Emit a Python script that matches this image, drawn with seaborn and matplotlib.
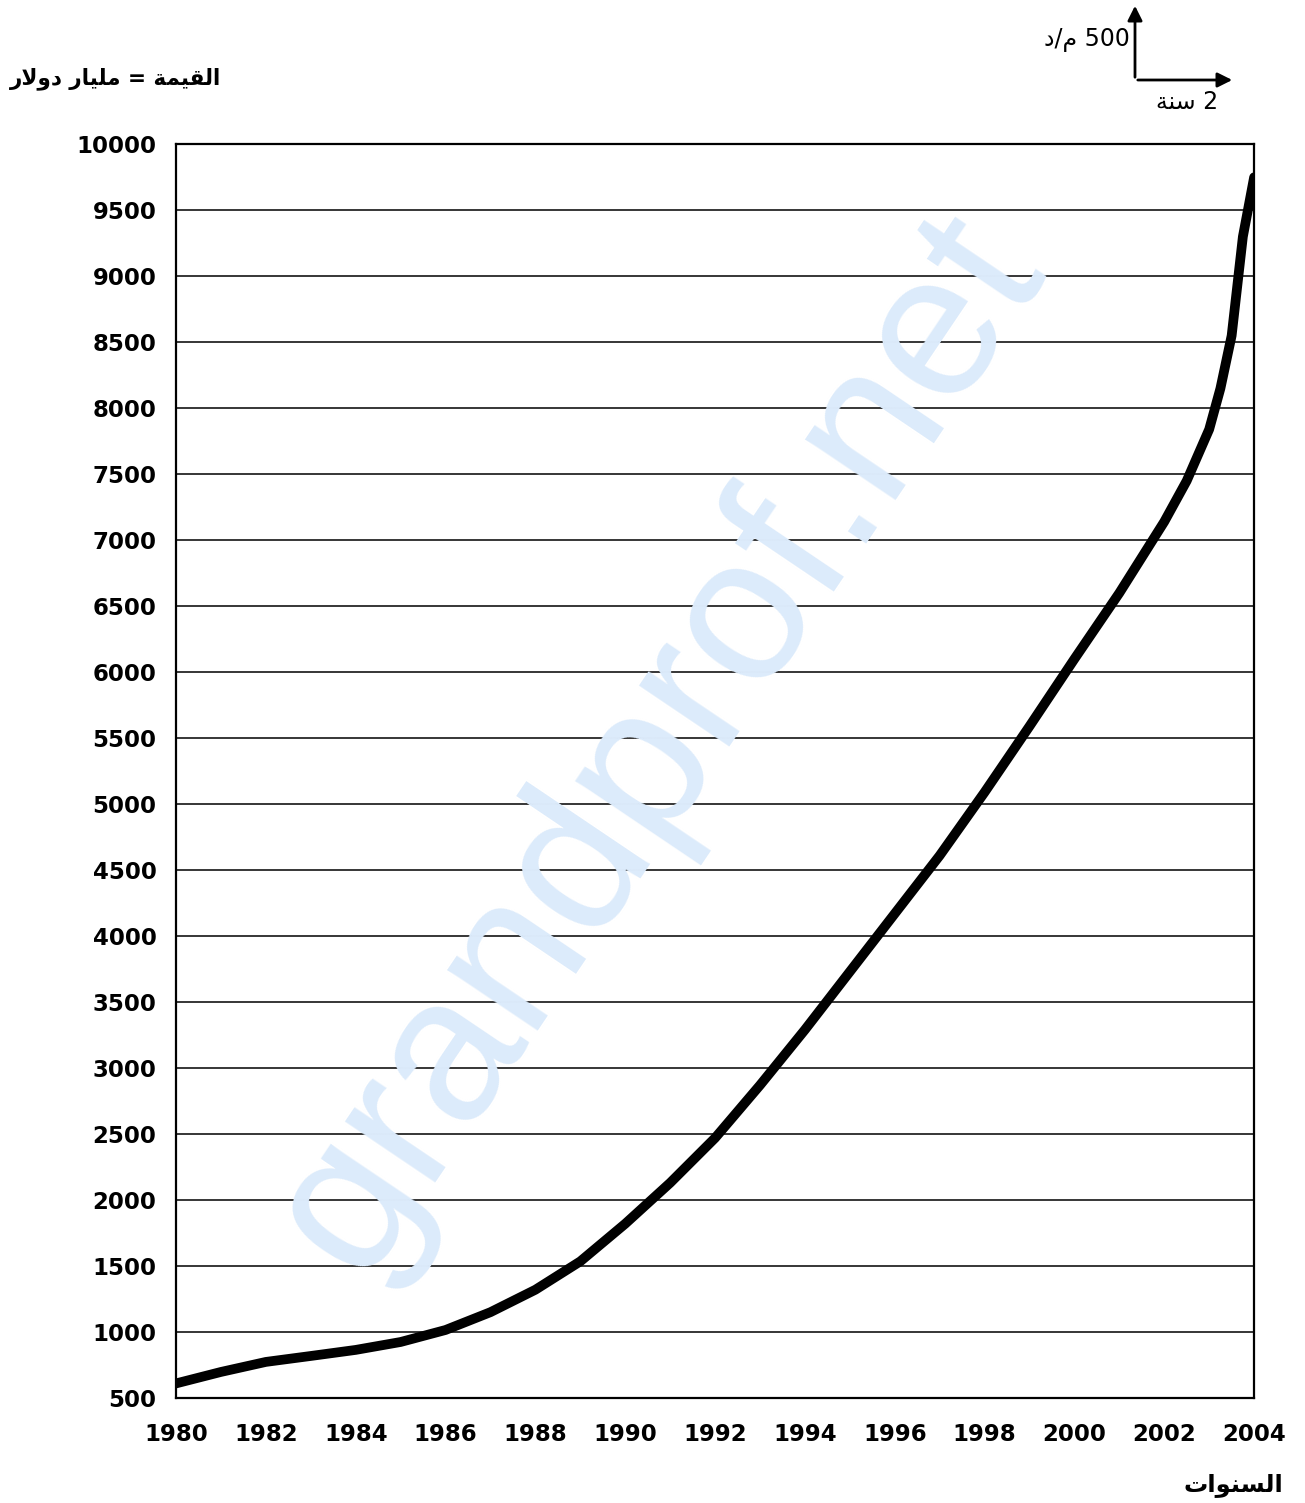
import matplotlib
matplotlib.use('Agg')
import matplotlib.pyplot as plt
import seaborn as sns
import pandas as pd

# القيم المقروءة من المنحنى (مليار دولار)
years = [1980, 1981, 1982, 1983, 1984, 1985, 1986, 1987, 1988, 1989, 1990,
         1991, 1992, 1993, 1994, 1995, 1996, 1997, 1998, 1999, 2000, 2001,
         2002, 2002.5, 2003, 2003.25, 2003.5, 2003.75, 2004]
values = [610, 697, 773, 818, 864, 924, 1015, 1150, 1320, 1535, 1820,
          2130, 2470, 2870, 3290, 3730, 4170, 4610, 5090, 5590, 6100, 6600,
          7140, 7450, 7840, 8150, 8550, 9300, 9750]
x_ticks = list(range(1980, 2005, 2))
y_ticks = list(range(500, 10001, 500))

# نصوص عربية بأشكال العرض (ترتيب مرئي من اليسار إلى اليمين)
y_title = ('\uFEAD\uFEFB\uFEED\uFEA9 \uFEAD\uFE8E\uFEF4\uFEE0\uFEE3 = '
           '\uFE94\uFEE4\uFEF4\uFED8\uFEDF\uFE8D')
x_title = '\uFE95\uFE8D\uFEEE\uFEE8\uFEB4\uFEDF\uFE8D'
scale_y = '\uFEA9/\uFEE1 500'
scale_x = '\uFE94\uFEE8\uFEB3 2'

df = pd.DataFrame({'year': years, 'value': values})

sns.set_style('white')
plt.rcParams['font.family'] = ['DejaVu Sans']
plt.rcParams['text.color'] = 'black'
plt.rcParams['xtick.color'] = 'black'
plt.rcParams['ytick.color'] = 'black'

fig = plt.figure(figsize=(13.05, 15.03), dpi=100)
ax = fig.add_axes([0.1349, 0.0699, 0.961 - 0.1349, 0.904 - 0.0699])

# العلامة المائية
fig.text(0.505, 0.505, 'grandprof.net', color='#dcebfb', fontsize=148,
         family='Liberation Sans', rotation=56, ha='center', va='center',
         zorder=0)
ax.patch.set_alpha(0)

for v in y_ticks:
    ax.axhline(v, color='black', lw=1.1, zorder=1)

sns.lineplot(data=df, x='year', y='value', color='black', lw=7,
             ax=ax, zorder=3, solid_joinstyle='round')

ax.set_xlim(1980, 2004)
ax.set_ylim(500, 10000)
ax.set_xticks(x_ticks)
ax.set_yticks(y_ticks)
ax.set_xticklabels([str(t) for t in x_ticks], fontsize=16.5, fontweight='bold')
ax.set_yticklabels([str(t) for t in y_ticks], fontsize=16.5, fontweight='bold')
ax.tick_params(axis='both', direction='out', length=6, width=1.2,
               color='black', pad=8)
ax.tick_params(axis='x', pad=12)
ax.set_xlabel('')
ax.set_ylabel('')
for s in ax.spines.values():
    s.set_color('black')
    s.set_linewidth(1.6)

fig.text(0.0075, 0.948, y_title, fontsize=15.5, fontweight='bold',
         ha='left', va='center')
fig.text(0.983, 0.012, x_title, fontsize=17.5, fontweight='bold',
         ha='right', va='center')

# مقياس الرسم
fig.add_artist(matplotlib.patches.FancyArrowPatch(
    (1135 / 1305, 1 - 80 / 1503), (1135 / 1305, 1 - 3 / 1503),
    transform=fig.transFigure, arrowstyle='-|>', mutation_scale=22,
    color='black', lw=2))
fig.add_artist(matplotlib.patches.FancyArrowPatch(
    (1135 / 1305, 1 - 80 / 1503), (1235 / 1305, 1 - 80 / 1503),
    transform=fig.transFigure, arrowstyle='-|>', mutation_scale=22,
    color='black', lw=2))
fig.text(1130 / 1305, 1 - 40 / 1503, scale_y, fontsize=17,
         ha='right', va='center')
fig.text(1218 / 1305, 1 - 102 / 1503, scale_x, fontsize=17,
         ha='right', va='center')

fig.savefig('out.png', dpi=100)
